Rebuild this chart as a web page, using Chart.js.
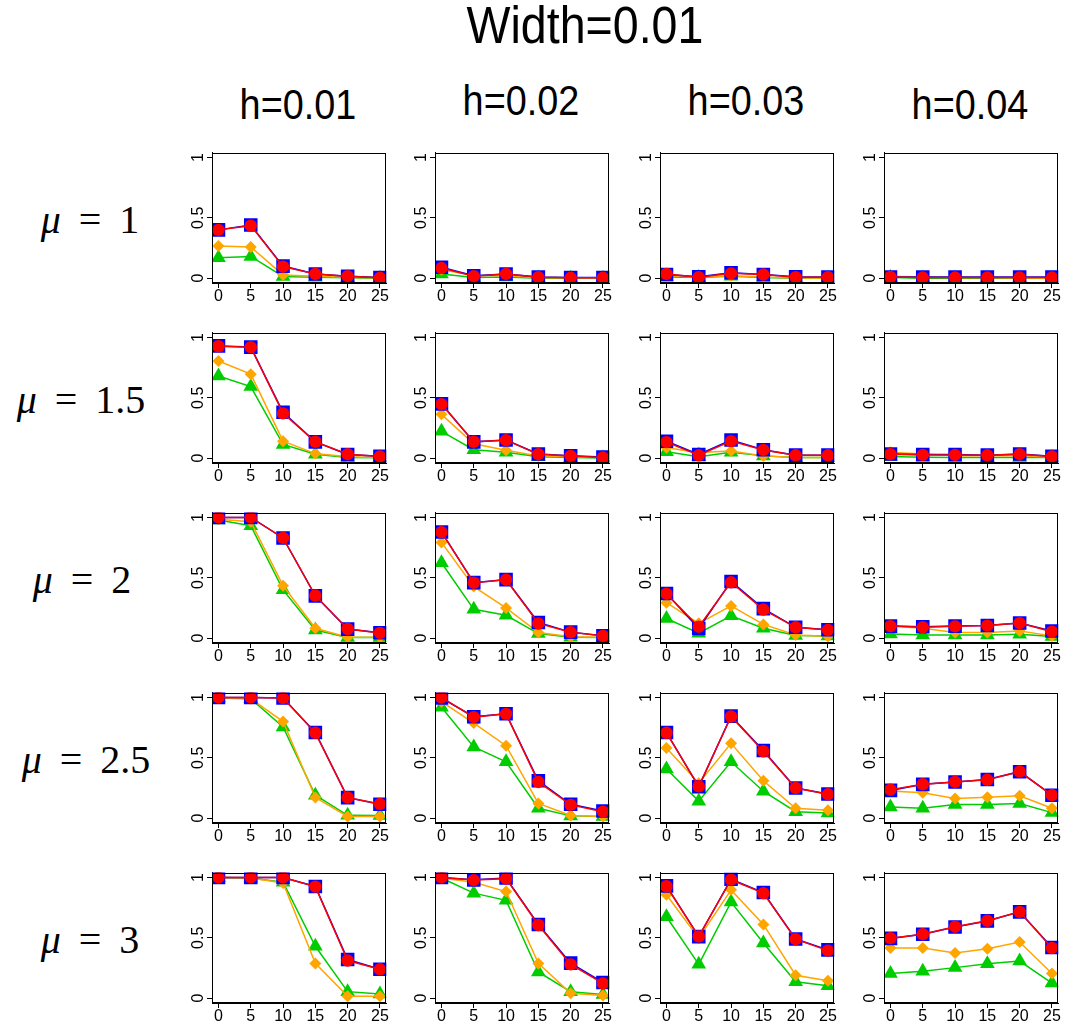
<!DOCTYPE html>
<html>
<head>
<meta charset="utf-8">
<script src="https://cdn.jsdelivr.net/npm/chart.js@4.4.1/dist/chart.umd.min.js"></script>
<style>
  body { margin: 0; background: #fff; width: 1067px; height: 1030px; overflow: hidden; position: relative; }
  canvas { position: absolute; }
  .lbl { position: absolute; white-space: nowrap; color: #000; transform: translate(-50%, -50%) scale(0.97, 1.08); }
  .sans { font-family: 'Liberation Sans', Arial, sans-serif; }
  .mu { font-family: 'Liberation Serif', 'DejaVu Serif', serif; font-size: 40px; transform: translate(-50%, -50%); }
  .mu .eq { margin: 0 0.45em; }
</style>
</head>
<body>
<script>
// x positions and labels
const xValues = [0, 5, 10, 15, 20, 25];
const yTicks = [0, 0.5, 1];
const mainTitle = 'Width=0.01';
const colLabels = ['h=0.01', 'h=0.02', 'h=0.03', 'h=0.04'];
const muValues = ['1', '1.5', '2', '2.5', '3'];

// series values, [row][col] -> 6 values
const blueValues = [
  [[0.40, 0.44, 0.10, 0.035, 0.015, 0.005], [0.09, 0.02, 0.035, 0.01, 0.005, 0.005], [0.03, 0.012, 0.045, 0.03, 0.012, 0.01], [0.01, 0.01, 0.01, 0.01, 0.01, 0.01]],
  [[0.93, 0.92, 0.38, 0.135, 0.03, 0.015], [0.45, 0.135, 0.15, 0.035, 0.02, 0.01], [0.14, 0.03, 0.15, 0.07, 0.025, 0.025], [0.035, 0.03, 0.03, 0.025, 0.035, 0.015]],
  [[1.0, 1.0, 0.83, 0.35, 0.075, 0.045], [0.88, 0.46, 0.485, 0.13, 0.05, 0.02], [0.37, 0.08, 0.47, 0.245, 0.09, 0.07], [0.10, 0.095, 0.10, 0.105, 0.125, 0.06]],
  [[1.0, 1.0, 0.995, 0.71, 0.17, 0.115], [0.995, 0.84, 0.865, 0.31, 0.115, 0.06], [0.71, 0.26, 0.845, 0.56, 0.25, 0.20], [0.23, 0.28, 0.30, 0.32, 0.385, 0.19]],
  [[1.0, 1.0, 1.0, 0.925, 0.32, 0.24], [1.0, 0.98, 0.995, 0.61, 0.29, 0.13], [0.93, 0.51, 0.985, 0.875, 0.49, 0.40], [0.495, 0.53, 0.59, 0.64, 0.715, 0.42]]
];
const redValues = [
  [[0.40, 0.435, 0.095, 0.035, 0.016, 0.003], [0.084, 0.016, 0.035, 0.008, 0.003, 0.003], [0.035, 0.008, 0.04, 0.03, 0.008, 0.008], [0.01, 0.005, 0.005, 0.005, 0.005, 0.005]],
  [[0.927, 0.919, 0.371, 0.136, 0.033, 0.014], [0.447, 0.136, 0.149, 0.033, 0.019, 0.005], [0.133, 0.024, 0.141, 0.068, 0.024, 0.024], [0.033, 0.027, 0.027, 0.024, 0.033, 0.014]],
  [[1.0, 1.0, 0.83, 0.353, 0.076, 0.043], [0.878, 0.459, 0.484, 0.122, 0.049, 0.019], [0.368, 0.095, 0.463, 0.237, 0.09, 0.068], [0.10, 0.09, 0.098, 0.104, 0.125, 0.054]],
  [[1.0, 1.0, 0.995, 0.707, 0.171, 0.117], [1.0, 0.837, 0.864, 0.30, 0.11, 0.054], [0.707, 0.264, 0.842, 0.554, 0.25, 0.198], [0.236, 0.281, 0.30, 0.318, 0.386, 0.19]],
  [[1.0, 1.0, 1.0, 0.924, 0.312, 0.239], [1.0, 0.978, 0.99, 0.606, 0.28, 0.122], [0.927, 0.511, 0.981, 0.87, 0.489, 0.394], [0.497, 0.53, 0.592, 0.641, 0.715, 0.416]]
];
const orangeValues = [
  [[0.266, 0.258, 0.027, 0.016, 0.008, 0.003], [0.07, 0.025, 0.02, 0.005, 0.002, 0.0], [0.02, 0.01, 0.02, 0.01, 0.002, 0.0], [0.015, 0.01, 0.005, 0.005, 0.002, 0.0]],
  [[0.805, 0.696, 0.141, 0.038, 0.011, 0.005], [0.363, 0.119, 0.065, 0.019, 0.011, 0.005], [0.087, 0.046, 0.06, 0.019, 0.005, 0.005], [0.05, 0.035, 0.02, 0.02, 0.02, 0.01]],
  [[0.985, 0.965, 0.435, 0.082, 0.008, 0.008], [0.793, 0.427, 0.25, 0.046, 0.011, 0.008], [0.294, 0.123, 0.267, 0.114, 0.027, 0.016], [0.10, 0.082, 0.046, 0.046, 0.06, 0.019]],
  [[0.995, 0.99, 0.80, 0.171, 0.014, 0.014], [0.965, 0.788, 0.60, 0.122, 0.022, 0.014], [0.582, 0.29, 0.62, 0.31, 0.082, 0.065], [0.226, 0.21, 0.163, 0.174, 0.185, 0.082]],
  [[1.0, 0.995, 0.954, 0.288, 0.016, 0.016], [0.995, 0.96, 0.883, 0.288, 0.041, 0.022], [0.856, 0.497, 0.897, 0.611, 0.19, 0.144], [0.416, 0.416, 0.375, 0.41, 0.465, 0.204]]
];
const greenValues = [
  [[0.17, 0.18, 0.014, 0.008, 0.003, 0.0], [0.035, 0.005, 0.01, 0.0, 0.0, 0.0], [0.01, 0.005, 0.015, 0.005, 0.0, 0.0], [0.005, 0.0, 0.0, 0.0, 0.0, 0.0]],
  [[0.68, 0.593, 0.114, 0.033, 0.005, 0.003], [0.222, 0.07, 0.049, 0.011, 0.005, 0.002], [0.054, 0.011, 0.049, 0.019, 0.005, 0.005], [0.014, 0.008, 0.005, 0.005, 0.005, 0.005]],
  [[0.978, 0.932, 0.40, 0.068, 0.005, 0.005], [0.625, 0.239, 0.19, 0.038, 0.008, 0.005], [0.163, 0.041, 0.185, 0.082, 0.022, 0.019], [0.035, 0.027, 0.027, 0.027, 0.033, 0.014]],
  [[0.995, 0.99, 0.755, 0.19, 0.024, 0.022], [0.918, 0.59, 0.467, 0.082, 0.019, 0.014], [0.408, 0.141, 0.467, 0.223, 0.054, 0.043], [0.092, 0.082, 0.114, 0.114, 0.122, 0.046]],
  [[1.0, 0.995, 0.96, 0.43, 0.054, 0.035], [0.995, 0.87, 0.81, 0.217, 0.054, 0.03], [0.674, 0.28, 0.796, 0.457, 0.136, 0.103], [0.204, 0.223, 0.253, 0.285, 0.307, 0.125]]
];

// layout of the plot boxes
const colLeft = [212, 435, 660, 884];
const rowTop = [151, 331, 511, 691, 871];
const boxW = 178, boxH = 132;
const yAxisW = 30, xAxisH = 30, padT = 8, padR = 6;
const muCenterX = [90, 81, 82, 86, 90];

function addLabel(text, cls, x, y, extra) {
  const d = document.createElement('div');
  d.className = 'lbl ' + cls;
  d.innerHTML = text;
  d.style.left = x + 'px';
  d.style.top = y + 'px';
  Object.assign(d.style, extra || {});
  document.body.appendChild(d);
}

const boxPlugin = {
  id: 'box',
  afterDatasetsDraw(chart) {
    const a = chart.chartArea, ctx = chart.ctx;
    ctx.save();
    ctx.strokeStyle = '#000';
    ctx.lineWidth = 1;
    ctx.strokeRect(Math.round(a.left) + 0.5, Math.round(a.top) + 0.5, Math.round(a.right - a.left) - 1, Math.round(a.bottom - a.top) - 1);
    ctx.restore();
  }
};

function series(vals, color, style, radius) {
  return {
    data: xValues.map((x, i) => ({ x: x, y: vals[i] })),
    borderColor: color,
    borderWidth: 1.5,
    pointStyle: style,
    pointRadius: radius,
    pointBackgroundColor: color,
    pointBorderWidth: 0,
    pointHoverRadius: radius
  };
}

function makePanel(r, c) {
  const cv = document.createElement('canvas');
  cv.width = yAxisW + boxW + padR;
  cv.height = padT + boxH + xAxisH;
  cv.style.left = (colLeft[c] - yAxisW) + 'px';
  cv.style.top = (rowTop[r] - padT) + 'px';
  document.body.appendChild(cv);

  new Chart(cv.getContext('2d'), {
    type: 'line',
    data: {
      datasets: [
        series(redValues[r][c], 'rgb(255,0,0)', 'circle', 6.2),
        series(blueValues[r][c], 'rgb(0,0,255)', 'rect', 9.6),
        series(orangeValues[r][c], 'rgb(255,165,0)', 'rectRot', 6),
        series(greenValues[r][c], 'rgb(0,205,0)', 'triangle', 8.5)
      ]
    },
    options: {
      responsive: false,
      animation: false,
      devicePixelRatio: 1,
      layout: { padding: { top: padT, right: padR, left: 0, bottom: 0 } },
      plugins: { legend: { display: false }, tooltip: { enabled: false } },
      scales: {
        x: {
          type: 'linear', min: -1, max: 26,
          afterBuildTicks: s => { s.ticks = xValues.map(v => ({ value: v })); },
          afterFit: s => { s.height = xAxisH; },
          grid: { drawOnChartArea: false, drawTicks: true, tickLength: 5, color: '#000' },
          border: { display: true, color: '#000' },
          ticks: { color: '#000', padding: -1, maxRotation: 0, autoSkip: false,
                   font: { family: 'Liberation Sans', size: 16 }, callback: v => String(v) }
        },
        y: {
          type: 'linear', min: -0.04, max: 1.04,
          afterBuildTicks: s => { s.ticks = yTicks.map(v => ({ value: v })); },
          afterFit: s => { s.width = yAxisW; },
          grid: { drawOnChartArea: false, drawTicks: true, tickLength: 5, color: '#000' },
          border: { display: true, color: '#000' },
          ticks: { color: '#000', padding: -3, minRotation: 90, maxRotation: 90, crossAlign: 'center',
                   font: { family: 'Liberation Sans', size: 16 }, callback: v => String(v) }
        }
      }
    },
    plugins: [boxPlugin]
  });
}

for (let r = 0; r < rowTop.length; r++) {
  for (let c = 0; c < colLeft.length; c++) makePanel(r, c);
}

addLabel(mainTitle, 'sans', 585, 25, { fontSize: '48px' });
const colY = [105, 101, 101, 105];
colLabels.forEach((t, c) => addLabel(t, 'sans', colLeft[c] + boxW / 2 - 3, colY[c], { fontSize: '39px' }));
muValues.forEach((m, r) => addLabel('<i>\u03bc</i><span class="eq">=</span>' + m, 'mu', muCenterX[r], rowTop[r] + boxH / 2 + 2));
</script>
</body>
</html>
